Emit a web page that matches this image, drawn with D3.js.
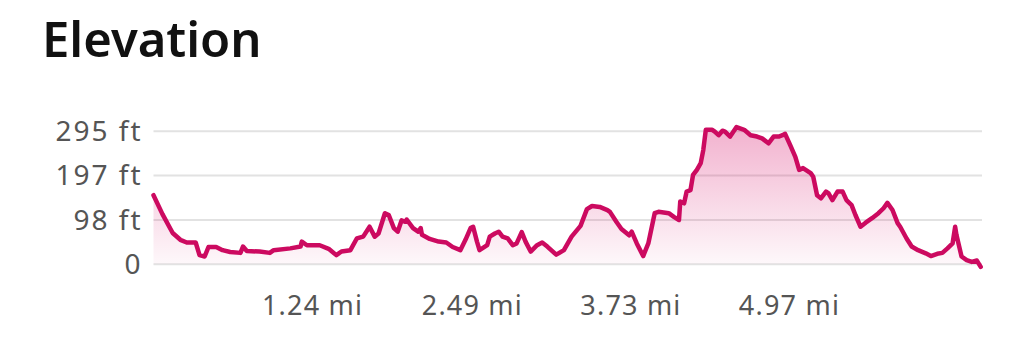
<!DOCTYPE html>
<html>
<head>
<meta charset="utf-8">
<script src="https://cdn.jsdelivr.net/npm/d3@7"></script>
<style>
  html, body { margin: 0; padding: 0; background: #fff; }
  svg text { font-family: "Noto Sans", "Lato", sans-serif; }
</style>
</head>
<body>
<div id="chart"></div>
<script>
// distance along the route (mi) and elevation (ft)
const distMi = [0.00, 0.07, 0.15, 0.21, 0.26, 0.33, 0.36, 0.40, 0.43, 0.49, 0.54, 0.60, 0.68, 0.70, 0.73, 0.83, 0.91, 0.94, 1.07, 1.15,
  1.16, 1.20, 1.30, 1.37, 1.43, 1.47, 1.54, 1.59, 1.64, 1.69, 1.73, 1.76, 1.81, 1.84, 1.88, 1.91, 1.94, 1.97, 1.98, 2.03,
  2.07, 2.09, 2.10, 2.16, 2.23, 2.29, 2.34, 2.40, 2.44, 2.48, 2.50, 2.53, 2.55, 2.61, 2.63, 2.67, 2.70, 2.73, 2.77, 2.81,
  2.84, 2.88, 2.91, 2.95, 3.00, 3.04, 3.08, 3.15, 3.21, 3.27, 3.34, 3.39, 3.43, 3.49, 3.55, 3.57, 3.62, 3.66, 3.72, 3.74,
  3.78, 3.83, 3.87, 3.92, 3.95, 4.03, 4.07, 4.11, 4.12, 4.15, 4.17, 4.20, 4.22, 4.25, 4.28, 4.30, 4.32, 4.37, 4.39, 4.42,
  4.45, 4.47, 4.51, 4.56, 4.62, 4.67, 4.72, 4.76, 4.81, 4.85, 4.89, 4.92, 4.94, 4.98, 5.02, 5.05, 5.08, 5.14, 5.16, 5.19,
  5.22, 5.26, 5.28, 5.31, 5.35, 5.39, 5.42, 5.46, 5.49, 5.53, 5.57, 5.62, 5.67, 5.71, 5.74, 5.78, 5.82, 5.84, 5.89, 5.93,
  5.98, 6.04, 6.08, 6.13, 6.17, 6.21, 6.25, 6.27, 6.28, 6.32, 6.36, 6.40, 6.44, 6.47];
const elevFt = [152, 110, 68, 53, 47, 47, 19, 16, 37, 37, 30, 26, 24, 38, 28, 27, 24, 30, 34, 38,
  49, 41, 41, 33, 19, 27, 30, 56, 60, 82, 60, 67, 112, 108, 79, 71, 96, 93, 98, 79,
  71, 79, 64, 55, 49, 47, 37, 30, 53, 79, 82, 49, 30, 41, 60, 67, 71, 60, 56, 41,
  45, 70, 49, 27, 41, 47, 38, 20, 30, 60, 84, 121, 128, 126, 119, 115, 93, 77, 63, 71,
  45, 17, 45, 112, 115, 112, 104, 97, 138, 134, 160, 163, 197, 208, 223, 252, 297, 297, 293, 285,
  295, 293, 282, 303, 297, 285, 282, 278, 267, 282, 282, 285, 288, 263, 237, 208, 212, 201, 193, 152,
  145, 160, 156, 141, 160, 160, 141, 130, 108, 82, 91, 101, 112, 123, 135, 119, 90, 82, 56, 38,
  30, 23, 17, 22, 24, 34, 45, 82, 64, 16, 8, 4, 7, -7];

const yTicks = [0, 98, 197, 295];
const xTicks = [1.24, 2.49, 3.73, 4.97];
const title = "Elevation";

const width = 1024, height = 349;
const data = distMi.map((d, i) => ({ x: d, y: elevFt[i] }));

const svg = d3.select("#chart").append("svg")
  .attr("width", width)
  .attr("height", height);

const x = d3.scaleLinear().domain([0, 6.48]).range([153.5, 982]);
const y = d3.scaleLinear().domain([0, 295]).range([263.7, 130.7]);

// gradient for the area under the line
const grad = svg.append("defs").append("linearGradient")
  .attr("id", "fillGrad")
  .attr("gradientUnits", "userSpaceOnUse")
  .attr("x1", 0).attr("x2", 0)
  .attr("y1", y(300)).attr("y2", y(0));
grad.append("stop").attr("offset", "0%").attr("stop-color", "#d4005f").attr("stop-opacity", 0.3);
grad.append("stop").attr("offset", "100%").attr("stop-color", "#d4005f").attr("stop-opacity", 0.03);

svg.append("text")
  .attr("x", 42)
  .attr("y", 57)
  .attr("font-size", 49)
  .attr("font-weight", 600)
  .attr("fill", "#111")
  .text(title);

// y axis: grid lines + labels
const yAxis = svg.append("g")
  .attr("transform", `translate(${x.range()[0]},0)`)
  .call(d3.axisLeft(y)
    .tickValues(yTicks)
    .tickSize(-(x.range()[1] - x.range()[0]))
    .tickPadding(11)
    .tickFormat(d => d === 0 ? "0" : d + " ft"));
yAxis.select(".domain").remove();
yAxis.selectAll(".tick line").attr("stroke", "#e2e2e2").attr("stroke-width", 2);
yAxis.selectAll(".tick text")
  .attr("font-size", 28)
  .attr("letter-spacing", 2)
  .attr("fill", "#555")
  .attr("dy", "0.34em");

// x axis: labels only
const xAxis = svg.append("g")
  .attr("transform", `translate(0,${y(0)})`)
  .call(d3.axisBottom(x)
    .tickValues(xTicks)
    .tickSize(0)
    .tickPadding(32)
    .tickFormat(d => d + " mi"));
xAxis.select(".domain").remove();
xAxis.selectAll(".tick text")
  .attr("font-size", 27)
  .attr("letter-spacing", 1.2)
  .attr("fill", "#555");

const area = d3.area()
  .x(d => x(d.x))
  .y0(y(0))
  .y1(d => y(d.y));

const line = d3.line()
  .x(d => x(d.x))
  .y(d => y(d.y));

svg.append("path")
  .datum(data)
  .attr("d", area)
  .attr("fill", "url(#fillGrad)");

svg.append("path")
  .datum(data)
  .attr("d", line)
  .attr("fill", "none")
  .attr("stroke", "#cc0a60")
  .attr("stroke-width", 4.5)
  .attr("stroke-linejoin", "round")
  .attr("stroke-linecap", "round");
</script>
</body>
</html>
